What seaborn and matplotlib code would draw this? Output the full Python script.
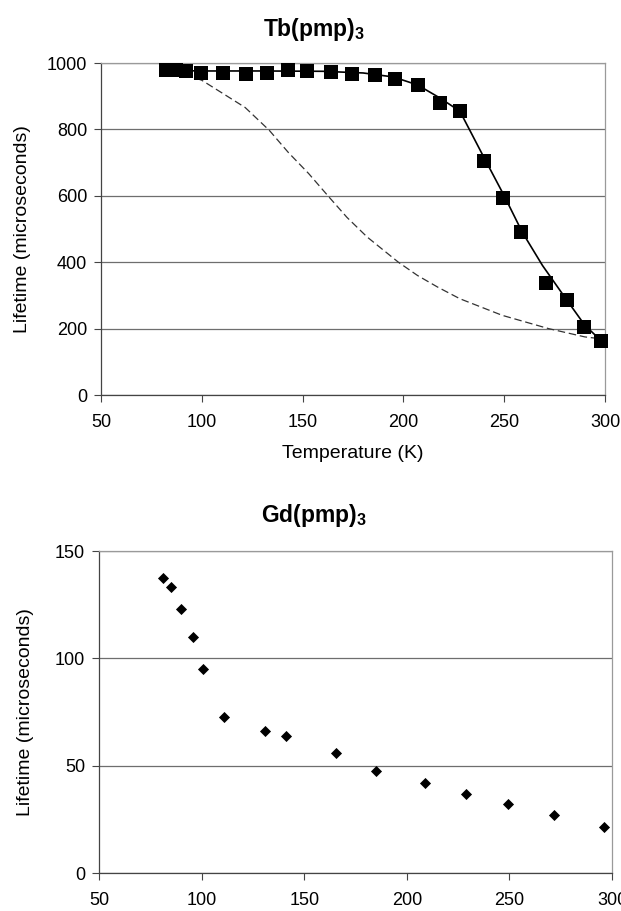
import numpy as np
import pandas as pd
import matplotlib
matplotlib.use("Agg")
import matplotlib.pyplot as plt
import seaborn as sns

# ---- Data: Tb(pmp)3 ----
tb_temp = [82, 87, 92, 99.5, 110.5, 122, 132.5, 143, 152, 164, 174.5, 186, 196, 207, 218, 228, 240, 249.5, 258.5, 270.5, 281, 289.5, 298]
tb_life = [978, 978, 975, 971, 971, 968, 970, 980, 975, 972, 968, 964, 952, 934, 881, 854, 704, 593, 491, 337, 287, 206, 164]

# solid fitted curve
fit_temp = [82, 100, 130, 160, 180, 195, 207, 218, 228, 240, 250, 259, 269, 280, 290, 298]
fit_life = [978, 976, 976, 975, 970, 958, 934, 895, 855, 715, 600, 490, 390, 295, 210, 164]

# dashed curve
dash_temp = [92, 100, 110.5, 121.5, 133.5, 143, 153, 163, 172, 182, 197.5, 207, 217, 228, 249, 272, 290, 297]
dash_life = [965, 948, 908, 866, 797, 730, 667, 597, 535, 476, 400, 360, 325, 290, 240, 200, 175, 170]

# ---- Data: Gd(pmp)3 ----
gd_temp = [81, 85, 90, 95.7, 100.6, 111, 131, 141.3, 165.6, 185, 209, 229, 249.4, 271.7, 296]
gd_life = [137.3, 133.3, 122.9, 110.1, 95.1, 72.7, 66.2, 64.0, 56.0, 47.3, 42.0, 36.8, 32.2, 26.9, 21.2]

x_ticks = [50, 100, 150, 200, 250, 300]
tb_yticks = [0, 200, 400, 600, 800, 1000]
gd_yticks = [0, 50, 100, 150]

sns.set_theme(style="white")
plt.rcParams['font.family'] = ['Liberation Sans', 'DejaVu Sans']
plt.rcParams['mathtext.fontset'] = 'custom'
plt.rcParams['mathtext.rm'] = 'Liberation Sans'
plt.rcParams['mathtext.bf'] = 'Liberation Sans:bold'
plt.rcParams['text.color'] = 'black'
plt.rcParams['axes.labelcolor'] = 'black'
plt.rcParams['xtick.color'] = 'black'
plt.rcParams['ytick.color'] = 'black'

fig = plt.figure(figsize=(6.21, 9.11), dpi=100)
ax1 = fig.add_axes([101/621, 1-395/911, (605-101)/621, (395-63)/911])
ax2 = fig.add_axes([99/621, 1-873/911, (612-99)/621, (873-551)/911])

def style(ax, yticks):
    ax.set_xlim(50, 300)
    ax.set_ylim(yticks[0], yticks[-1])
    ax.set_xticks(x_ticks)
    ax.set_yticks(yticks)
    ax.yaxis.grid(True, color='#6e6e6e', linewidth=0.9)
    ax.xaxis.grid(False)
    for s in ['left', 'bottom']:
        ax.spines[s].set_color('#444444')
        ax.spines[s].set_linewidth(0.9)
    for s in ['top', 'right']:
        ax.spines[s].set_color('#9a9a9a')
        ax.spines[s].set_linewidth(0.9)
    ax.tick_params(axis='both', which='major', direction='out', length=5, width=0.8,
                   color='#444444', labelsize=13, bottom=True, left=True, pad=5)
    ax.tick_params(axis='x', pad=9)
    ax.set_axisbelow(True)

# Top chart
style(ax1, tb_yticks)
sns.lineplot(x=dash_temp, y=dash_life, ax=ax1, sort=False, color='#333333',
             linewidth=0.9, linestyle=(0, (6, 3)), estimator=None)
sns.lineplot(x=fit_temp, y=fit_life, ax=ax1, sort=False, color='black',
             linewidth=1.2, estimator=None)
sns.scatterplot(x=tb_temp, y=tb_life, ax=ax1, marker='s', s=100, color='black',
                edgecolor='black', linewidth=0, zorder=5, clip_on=False)
fig.text(314/621, 1-36/911, r'$\mathbf{Tb(pmp)_3}$', fontsize=16.5, ha='center', va='baseline')
ax1.set_xlabel('Temperature (K)', fontsize=14, labelpad=10)
ax1.set_ylabel('Lifetime (microseconds)', fontsize=14, labelpad=11)

# Bottom chart
style(ax2, gd_yticks)
sns.scatterplot(x=gd_temp, y=gd_life, ax=ax2, marker='D', s=32, color='black',
                edgecolor='black', linewidth=0, zorder=5, clip_on=False)
fig.text(314/621, 1-522/911, r'$\mathbf{Gd(pmp)_3}$', fontsize=16.5, ha='center', va='baseline')
ax2.set_ylabel('Lifetime (microseconds)', fontsize=14, labelpad=15)
ax2.set_xlabel('')

fig.savefig('out.png', dpi=100)
